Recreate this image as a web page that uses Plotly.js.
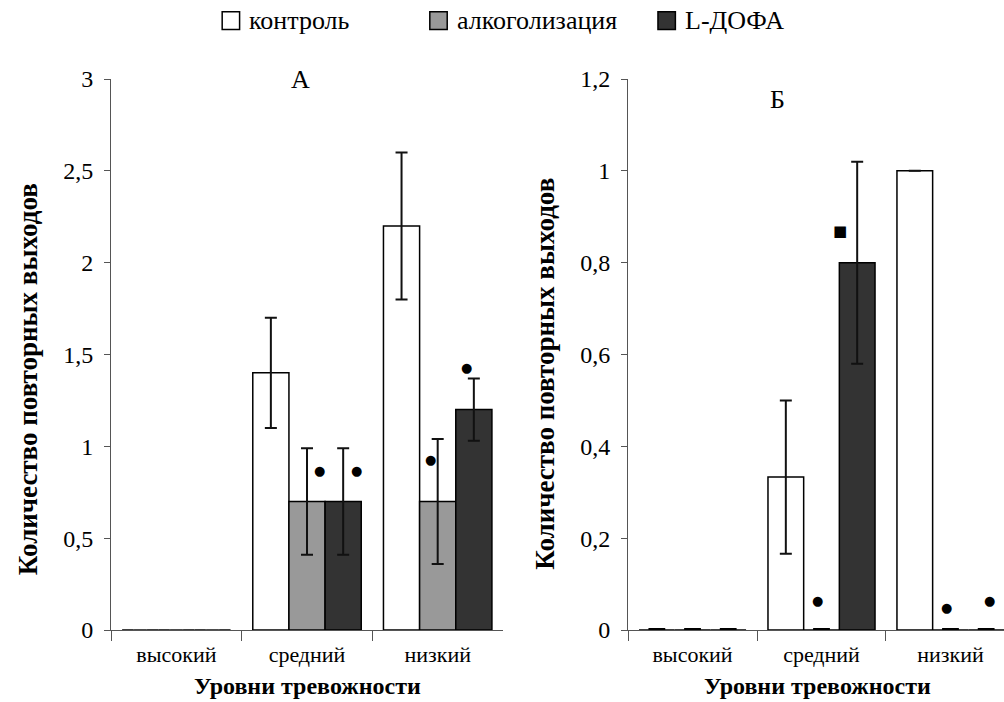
<!DOCTYPE html>
<html>
<head>
<meta charset="utf-8">
<script src="https://cdn.plot.ly/plotly-3.0.1.min.js"></script>
<style>html,body{margin:0;padding:0;background:#fff;}#chart{width:1004px;height:702px;}</style>
</head>
<body>
<div id="chart"></div>
<script>
// Categories (anxiety levels)
var categories = ['высокий', 'средний', 'низкий'];
var seriesNames = ['контроль', 'алкоголизация', 'L-ДОФА'];

// Panel А values and SEM
var aControl = [0, 1.4, 2.2];
var aControlErr = [0, 0.3, 0.4];
var aAlcohol = [0, 0.7, 0.7];
var aAlcoholErr = [0, 0.29, 0.34];
var aLdopa = [0, 0.7, 1.2];
var aLdopaErr = [0, 0.29, 0.17];

// Panel Б values and SEM
var bControl = [0, 0.333, 1.0];
var bControlErr = [0, 0.167, 0];
var bAlcohol = [0, 0, 0];
var bAlcoholErr = [0, 0, 0];
var bLdopa = [0, 0.8, 0];
var bLdopaErr = [0, 0.22, 0];

// Significance marks: [series index, category, y value, symbol]
var aMarks = [[1, 'средний', 0.87, '●'], [2, 'средний', 0.87, '●'], [1, 'низкий', 0.93, '●'], [2, 'низкий', 1.43, '●']];
var bMarks = [[1, 'средний', 0.065, '●'], [2, 'средний', 0.87, '■'], [1, 'низкий', 0.05, '●'], [2, 'низкий', 0.065, '●']];

var yTicksA = [0, 0.5, 1, 1.5, 2, 2.5, 3];
var yTicksB = [0, 0.2, 0.4, 0.6, 0.8, 1, 1.2];

var fills = ['#ffffff', '#999999', '#333333'];
var FONT = '"Liberation Serif", "Times New Roman", Times, "DejaVu Serif", serif';

function barTrace(name, y, err, idx, xa, ya) {
  return {
    type: 'bar', name: name, x: categories, y: y,
    xaxis: xa, yaxis: ya, showlegend: false,
    marker: {color: fills[idx], line: {color: '#000', width: 1.5}},
    error_y: {type: 'data', array: err, visible: true, color: '#111', thickness: 2, width: 6},
    hoverinfo: 'skip'
  };
}
function zeroTrace(y, xa, ya, lw, col, sz) {
  return {
    type: 'scatter', mode: 'markers', x: categories,
    y: y.map(function (v) { return v === 0 ? 0 : null; }),
    xaxis: xa, yaxis: ya, showlegend: false, hoverinfo: 'skip',
    marker: {symbol: 'line-ew', size: sz, color: col, line: {color: col, width: lw}}
  };
}

var data = [
  barTrace(seriesNames[0], aControl, aControlErr, 0, 'x', 'y'),
  barTrace(seriesNames[1], aAlcohol, aAlcoholErr, 1, 'x', 'y'),
  barTrace(seriesNames[2], aLdopa, aLdopaErr, 2, 'x', 'y'),
  barTrace(seriesNames[0], bControl, bControlErr, 0, 'x2', 'y2'),
  barTrace(seriesNames[1], bAlcohol, bAlcoholErr, 1, 'x2', 'y2'),
  barTrace(seriesNames[2], bLdopa, bLdopaErr, 2, 'x2', 'y2'),
  zeroTrace(aControl, 'x', 'y', 1, '#888', 10),
  zeroTrace(aAlcohol, 'x', 'y', 1, '#888', 10),
  zeroTrace(aLdopa, 'x', 'y', 1, '#888', 10),
  zeroTrace(bControl, 'x2', 'y2', 4, '#000', 12),
  zeroTrace(bAlcohol, 'x2', 'y2', 4, '#000', 12),
  zeroTrace(bLdopa, 'x2', 'y2', 4, '#000', 12)
];

// pixel shift of each series within group (style)
var seriesShift = [-36, 0, 36];
var extraShiftA = {'1средний': 12, '2средний': 13, '1низкий': -7, '2низкий': -7};
var extraShiftB = {'1средний': -4, '2средний': -18, '1низкий': -4, '2низкий': 3};

var annotations = [];
var shapes = [];
aMarks.forEach(function (m) {
  annotations.push({xref: 'x', yref: 'y', x: m[1], y: m[2], text: m[3], showarrow: false,
    xshift: seriesShift[m[0]] + extraShiftA[m[0] + m[1]], font: {family: 'DejaVu Sans', size: 13, color: '#000'}});
});
bMarks.forEach(function (m) {
  annotations.push({xref: 'x2', yref: 'y2', x: m[1], y: m[2], text: m[3], showarrow: false,
    xshift: seriesShift[m[0]] + extraShiftB[m[0] + m[1]], font: {family: 'DejaVu Sans', size: m[3] === '■' ? 15 : 13, color: '#000'}});
});
// panel letters
annotations.push({xref: 'paper', yref: 'paper', x: 0.1994, y: 1.0, yanchor: 'middle', text: 'А', showarrow: false,
  font: {family: FONT, size: 26, color: '#000'}});
annotations.push({xref: 'paper', yref: 'paper', x: 0.757, y: 0.962, yanchor: 'middle', text: 'Б', showarrow: false,
  font: {family: FONT, size: 26, color: '#000'}});
// axis titles
var yTitle = '<b>Количество повторных выходов</b>';
var xTitle = '<b>Уровни тревожности</b>';
[[-0.093, 0.455], [0.486, 0.465]].forEach(function (p) {
  annotations.push({xref: 'paper', yref: 'paper', x: p[0], y: p[1], textangle: -90, text: yTitle, showarrow: false,
    xanchor: 'center', yanchor: 'middle', font: {family: FONT, size: 27, color: '#000'}});
});
[[0.2195, -0.102], [0.7915, -0.102]].forEach(function (p) {
  annotations.push({xref: 'paper', yref: 'paper', x: p[0], y: p[1], text: xTitle, showarrow: false,
    xanchor: 'center', yanchor: 'middle', font: {family: FONT, size: 24, color: '#000'}});
});
// custom legend (square swatches + labels)
var legendX = [0.1245, 0.357, 0.6125];
seriesNames.forEach(function (name, i) {
  var x0 = legendX[i];
  shapes.push({type: 'rect', xref: 'paper', yref: 'paper', x0: x0, x1: x0 + 0.0195, y0: 1.09, y1: 1.122,
    fillcolor: fills[i], line: {color: '#000', width: 1.5}});
  annotations.push({xref: 'paper', yref: 'paper', x: x0 + 0.028, y: 1.106, xanchor: 'left', yanchor: 'middle',
    text: name, showarrow: false, font: {family: FONT, size: 26, color: '#000'}});
});

var axisCommon = {
  showgrid: false, zeroline: false, showline: true, linecolor: '#555', linewidth: 1,
  ticks: 'outside', tickcolor: '#555', tickfont: {family: FONT, size: 24, color: '#000'}
};
function xAxis(domain, range, anchor) {
  return Object.assign({}, axisCommon, {
    type: 'category', domain: domain, range: range, anchor: anchor,
    tickson: 'boundaries', ticklen: 10, ticklabelstandoff: 5,
    tickfont: {family: FONT, size: 22, color: '#000'}
  });
}
function yAxis(range, ticks, anchor) {
  return Object.assign({}, axisCommon, {
    range: range, tickvals: ticks, ticklen: 6, anchor: anchor, domain: [0, 1], ticklabelstandoff: 6
  });
}

var layout = {
  width: 1004, height: 702,
  font: {family: FONT},
  margin: {l: 111, r: 0, t: 79, b: 72},
  paper_bgcolor: '#fff', plot_bgcolor: '#fff',
  separators: ', ',
  barmode: 'group', bargap: 0.17, bargroupgap: 0,
  scattermode: 'group', scattergap: 0.17,
  showlegend: false,
  xaxis: xAxis([0, 0.439], [-0.5, 2.5], 'y'),
  yaxis: yAxis([0, 3], yTicksA, 'x'),
  xaxis2: xAxis([0.579, 1], [-0.5, 2.415], 'y2'),
  yaxis2: yAxis([0, 1.2], yTicksB, 'x2'),
  annotations: annotations,
  shapes: shapes
};

Plotly.newPlot('chart', data, layout, {displayModeBar: false, staticPlot: true});
</script>
</body>
</html>
